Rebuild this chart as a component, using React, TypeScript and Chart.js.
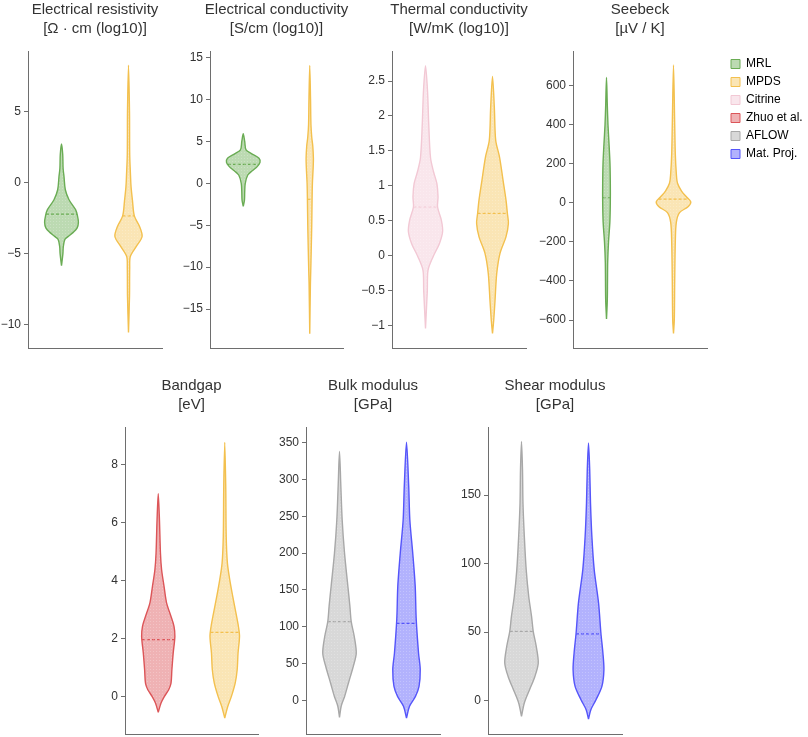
import React, { useEffect, useRef } from "react";
import { Chart, registerables } from "chart.js";

Chart.register(...registerables);

const FONT = "'Liberation Sans', Arial, Helvetica, sans-serif";
const AXIS = "#6e6e6e";
const TEXT = "#333333";
const YW = 42;

// ---------- data ----------
const SOURCES = ["MRL", "MPDS", "Citrine", "Zhuo et al.", "AFLOW", "Mat. Proj."];

// Electrical resistivity [log10 Ω·cm]
const RES_TICKS = [-10, -5, 0, 5];
const RES_RANGE = [-11.64, 9.27];
const RES_MRL_Y = [2.72, 2.0, 1.0, 0.4, -0.5, -1.2, -1.9, -2.3, -2.8, -3.2, -3.5, -3.8, -4.0, -4.5, -5.0, -5.85];
const RES_MRL_W = [0, 0.018, 0.024, 0.038, 0.057, 0.112, 0.21, 0.237, 0.252, 0.232, 0.175, 0.097, 0.05, 0.027, 0.021, 0];
const RES_MRL_MED = -2.22;
const RES_MPDS_Y = [8.27, 5, 2, 0.5, -0.28, -1.3, -2.34, -3.09, -3.79, -4.49, -5.2, -6, -8, -10.55];
const RES_MPDS_W = [0, 0.015, 0.018, 0.03, 0.038, 0.06, 0.087, 0.165, 0.203, 0.117, 0.027, 0.018, 0.015, 0];
const RES_MPDS_MED = -2.34;

// Electrical conductivity [log10 S/cm]
const COND_TICKS = [-15, -10, -5, 0, 5, 10, 15];
const COND_RANGE = [-19.65, 15.8];
const COND_MRL_Y = [5.93, 5, 4, 3.5, 3.0, 2.5, 2.0, 1.5, 1.0, 0, -1, -2, -2.74];
const COND_MRL_W = [0, 0.022, 0.042, 0.135, 0.237, 0.252, 0.21, 0.135, 0.068, 0.03, 0.022, 0.018, 0];
const COND_MRL_MED = 2.27;
const COND_MPDS_Y = [14.08, 10, 7, 5.5, 4.5, 3, 2, 0, -2, -5, -8, -10.5, -12, -17.94];
const COND_MPDS_W = [0, 0.012, 0.018, 0.03, 0.045, 0.055, 0.052, 0.04, 0.035, 0.03, 0.022, 0.015, 0.01, 0];
const COND_MPDS_MED = -1.9;

// Thermal conductivity [log10 W/mK]
const THERM_TICKS = [-1, -0.5, 0, 0.5, 1, 1.5, 2, 2.5];
const THERM_RANGE = [-1.325, 2.93];
const THERM_CIT_Y = [2.72, 2.36, 1.89, 1.4, 1.2, 1.03, 0.84, 0.695, 0.505, 0.34, 0.17, -0.02, -0.21, -0.5, -1.045];
const THERM_CIT_W = [0, 0.03, 0.048, 0.075, 0.12, 0.17, 0.187, 0.18, 0.237, 0.255, 0.207, 0.112, 0.038, 0.027, 0];
const THERM_CIT_MED = 0.695;
const THERM_MPDS_Y = [2.565, 2.13, 1.65, 1.41, 1.08, 0.79, 0.605, 0.46, 0.27, 0.03, -0.26, -0.64, -0.93, -1.116];
const THERM_MPDS_W = [0, 0.027, 0.048, 0.105, 0.157, 0.202, 0.222, 0.237, 0.202, 0.112, 0.063, 0.038, 0.018, 0];
const THERM_MPDS_MED = 0.605;

// Seebeck [µV/K]
const SEEB_TICKS = [-600, -400, -200, 0, 200, 400, 600];
const SEEB_RANGE = [-743, 777];
const SEEB_MRL_Y = [641, 500, 400, 300, 200, 100, 0, -100, -200, -300, -400, -500, -595];
const SEEB_MRL_W = [0, 0.012, 0.022, 0.038, 0.052, 0.057, 0.057, 0.05, 0.03, 0.018, 0.015, 0.012, 0];
const SEEB_MRL_MED = 26;
const SEEB_MPDS_Y = [705, 400, 250, 150, 100, 60, 30, 5, -20, -50, -100, -200, -400, -600, -668];
const SEEB_MPDS_W = [0, 0.018, 0.027, 0.042, 0.06, 0.12, 0.195, 0.258, 0.217, 0.09, 0.042, 0.027, 0.018, 0.012, 0];
const SEEB_MPDS_MED = 19;

// Bandgap [eV]
const GAP_TICKS = [0, 2, 4, 6, 8];
const GAP_RANGE = [-1.3, 9.3];
const GAP_ZHUO_Y = [7.0, 6.1, 4.95, 4.38, 3.8, 3.23, 2.76, 2.42, 2.07, 1.5, 0.92, 0.46, 0.23, 0, -0.23, -0.55];
const GAP_ZHUO_W = [0, 0.018, 0.033, 0.05, 0.087, 0.125, 0.192, 0.237, 0.25, 0.225, 0.205, 0.192, 0.157, 0.093, 0.042, 0];
const GAP_ZHUO_MED = 1.96;
const GAP_MPDS_Y = [8.77, 7.25, 5.53, 4.6, 4.03, 3.45, 2.88, 2.42, 2.07, 1.5, 0.92, 0.46, 0, -0.35, -0.75];
const GAP_MPDS_W = [0, 0.015, 0.022, 0.04, 0.075, 0.12, 0.168, 0.205, 0.222, 0.2, 0.187, 0.157, 0.1, 0.045, 0];
const GAP_MPDS_MED = 2.21;

// Bulk modulus [GPa]
const BULK_TICKS = [0, 50, 100, 150, 200, 250, 300, 350];
const BULK_RANGE = [-45.7, 371.3];
const BULK_AFLOW_Y = [338, 291, 245, 200, 155, 128, 107, 87, 64, 46, 24, 5, -8, -23];
const BULK_AFLOW_W = [0, 0.02, 0.04, 0.075, 0.125, 0.155, 0.175, 0.22, 0.25, 0.205, 0.135, 0.075, 0.025, 0];
const BULK_AFLOW_MED = 107;
const BULK_MP_Y = [350.5, 291, 245, 200, 155, 110, 64, 42, 19, 5, -8, -24];
const BULK_MP_W = [0, 0.033, 0.05, 0.093, 0.13, 0.145, 0.18, 0.205, 0.187, 0.132, 0.045, 0];
const BULK_MP_MED = 104.6;

// Shear modulus [GPa]
const SHEAR_TICKS = [0, 50, 100, 150];
const SHEAR_RANGE = [-24.3, 199.6];
const SHEAR_AFLOW_Y = [189, 168.6, 144, 120, 95.6, 76, 61.5, 50.6, 39.6, 27.5, 17.7, 8, -1.7, -11.5];
const SHEAR_AFLOW_W = [0, 0.015, 0.022, 0.042, 0.07, 0.108, 0.15, 0.175, 0.22, 0.25, 0.2, 0.12, 0.042, 0];
const SHEAR_AFLOW_MED = 50.6;
const SHEAR_MP_Y = [188, 168.6, 144, 120, 95.6, 71.3, 49.4, 34.8, 22.6, 10.4, 0.7, -6.6, -13.4];
const SHEAR_MP_W = [0, 0.018, 0.03, 0.05, 0.085, 0.15, 0.185, 0.215, 0.23, 0.2, 0.112, 0.035, 0];
const SHEAR_MP_MED = 48.7;

// ---------- styles ----------
const STYLE: Record<string, { line: string; fill: string }> = {
  MRL: { line: "rgb(106,172,84)", fill: "rgba(106,172,84,0.45)" },
  MPDS: { line: "rgb(243,192,78)", fill: "rgba(243,192,78,0.42)" },
  Citrine: { line: "rgb(242,200,212)", fill: "rgba(242,200,212,0.45)" },
  "Zhuo et al.": { line: "rgb(220,85,88)", fill: "rgba(220,85,88,0.45)" },
  AFLOW: { line: "rgb(168,168,168)", fill: "rgba(168,168,168,0.45)" },
  "Mat. Proj.": { line: "rgb(85,85,250)", fill: "rgba(85,85,250,0.45)" },
};

type Violin = { source: string; y: number[]; w: number[]; median: number };
type PanelDef = {
  title: string[];
  ticks: number[];
  range: number[];
  violins: Violin[];
  box: { left: number; top: number; plotW: number; plotH: number };
};

const PANELS: PanelDef[] = [
  {
    title: ["Electrical resistivity", "[Ω · cm (log10)]"],
    ticks: RES_TICKS,
    range: RES_RANGE,
    violins: [
      { source: "MRL", y: RES_MRL_Y, w: RES_MRL_W, median: RES_MRL_MED },
      { source: "MPDS", y: RES_MPDS_Y, w: RES_MPDS_W, median: RES_MPDS_MED },
    ],
    box: { left: 28, top: 51, plotW: 134, plotH: 297 },
  },
  {
    title: ["Electrical conductivity", "[S/cm (log10)]"],
    ticks: COND_TICKS,
    range: COND_RANGE,
    violins: [
      { source: "MRL", y: COND_MRL_Y, w: COND_MRL_W, median: COND_MRL_MED },
      { source: "MPDS", y: COND_MPDS_Y, w: COND_MPDS_W, median: COND_MPDS_MED },
    ],
    box: { left: 210, top: 51, plotW: 133, plotH: 297 },
  },
  {
    title: ["Thermal conductivity", "[W/mK (log10)]"],
    ticks: THERM_TICKS,
    range: THERM_RANGE,
    violins: [
      { source: "Citrine", y: THERM_CIT_Y, w: THERM_CIT_W, median: THERM_CIT_MED },
      { source: "MPDS", y: THERM_MPDS_Y, w: THERM_MPDS_W, median: THERM_MPDS_MED },
    ],
    box: { left: 392, top: 51, plotW: 134, plotH: 297 },
  },
  {
    title: ["Seebeck", "[µV / K]"],
    ticks: SEEB_TICKS,
    range: SEEB_RANGE,
    violins: [
      { source: "MRL", y: SEEB_MRL_Y, w: SEEB_MRL_W, median: SEEB_MRL_MED },
      { source: "MPDS", y: SEEB_MPDS_Y, w: SEEB_MPDS_W, median: SEEB_MPDS_MED },
    ],
    box: { left: 573, top: 51, plotW: 134, plotH: 297 },
  },
  {
    title: ["Bandgap", "[eV]"],
    ticks: GAP_TICKS,
    range: GAP_RANGE,
    violins: [
      { source: "Zhuo et al.", y: GAP_ZHUO_Y, w: GAP_ZHUO_W, median: GAP_ZHUO_MED },
      { source: "MPDS", y: GAP_MPDS_Y, w: GAP_MPDS_W, median: GAP_MPDS_MED },
    ],
    box: { left: 125, top: 427, plotW: 133, plotH: 307 },
  },
  {
    title: ["Bulk modulus", "[GPa]"],
    ticks: BULK_TICKS,
    range: BULK_RANGE,
    violins: [
      { source: "AFLOW", y: BULK_AFLOW_Y, w: BULK_AFLOW_W, median: BULK_AFLOW_MED },
      { source: "Mat. Proj.", y: BULK_MP_Y, w: BULK_MP_W, median: BULK_MP_MED },
    ],
    box: { left: 306, top: 427, plotW: 134, plotH: 307 },
  },
  {
    title: ["Shear modulus", "[GPa]"],
    ticks: SHEAR_TICKS,
    range: SHEAR_RANGE,
    violins: [
      { source: "AFLOW", y: SHEAR_AFLOW_Y, w: SHEAR_AFLOW_W, median: SHEAR_AFLOW_MED },
      { source: "Mat. Proj.", y: SHEAR_MP_Y, w: SHEAR_MP_W, median: SHEAR_MP_MED },
    ],
    box: { left: 488, top: 427, plotW: 134, plotH: 307 },
  },
];

// ---------- helpers ----------
const TITLE_GAP = 53; // canvas top to plot top
const TITLE_PAD_TOP = 3;
const BOTTOM_PAD = 12;

function violinPoints(center: number, ys: number[], ws: number[]) {
  const left = ys.map((y, i) => ({ x: center - ws[i], y })).reverse();
  const right = ys.map((y, i) => ({ x: center + ws[i], y }));
  return [...left, ...right.slice(1)];
}

function widthAt(ys: number[], ws: number[], v: number) {
  for (let i = 0; i < ys.length - 1; i++) {
    const a = ys[i];
    const b = ys[i + 1];
    if (v <= a && v >= b) {
      const t = a === b ? 0 : (a - v) / (a - b);
      return ws[i] + (ws[i + 1] - ws[i]) * t;
    }
  }
  return 0;
}

function fmt(v: number) {
  return v < 0 ? "\u2212" + String(Math.abs(v)) : String(v);
}

function makePattern(fill: string): CanvasPattern | string {
  const tile = document.createElement("canvas");
  tile.width = 3;
  tile.height = 3;
  const c = tile.getContext("2d");
  if (!c) return fill;
  c.fillStyle = fill;
  c.fillRect(0, 0, 3, 3);
  c.fillStyle = "rgba(255,255,255,0.22)";
  c.fillRect(1, 1, 1, 1);
  const pat = c.createPattern(tile, "repeat");
  return pat || fill;
}

function Panel({ p }: { p: PanelDef }) {
  const ref = useRef<HTMLCanvasElement>(null);
  const W = p.box.plotW + 2 * YW;
  const H = TITLE_GAP + p.box.plotH + BOTTOM_PAD;
  const left = p.box.left - YW;
  const top = p.box.top - TITLE_GAP;

  useEffect(() => {
    if (!ref.current) return;
    const datasets: any[] = [];
    p.violins.forEach((v, idx) => {
      const st = STYLE[v.source];
      datasets.push({
        label: v.source,
        data: violinPoints(idx, v.y, v.w),
        showLine: true,
        fill: "shape",
        backgroundColor: makePattern(st.fill),
        borderColor: st.line,
        borderWidth: 1.4,
        pointRadius: 0,
        tension: 0.3,
        xAxisID: "x",
        yAxisID: "y",
      });
      const wm = widthAt(v.y, v.w, v.median);
      datasets.push({
        label: v.source + " median",
        data: [
          { x: idx - wm, y: v.median },
          { x: idx + wm, y: v.median },
        ],
        showLine: true,
        fill: false,
        borderColor: st.line,
        borderWidth: 1.2,
        borderDash: [3, 2],
        pointRadius: 0,
        xAxisID: "x",
        yAxisID: "y",
      });
    });

    const chart = new Chart(ref.current, {
      type: "scatter",
      data: { datasets },
      options: {
        animation: false,
        responsive: false,
        events: [],
        layout: { padding: { left: 0, right: 0, top: 0, bottom: BOTTOM_PAD } },
        plugins: {
          legend: { display: false },
          tooltip: { enabled: false },
          title: {
            display: true,
            text: p.title,
            color: TEXT,
            font: { family: FONT, size: 15, weight: "normal", lineHeight: 1.23 },
            padding: {
              top: TITLE_PAD_TOP,
              bottom: TITLE_GAP - 2 * 15 * 1.23 - TITLE_PAD_TOP,
            },
          },
        },
        scales: {
          x: {
            type: "linear",
            position: "bottom",
            min: -0.5,
            max: 1.5,
            ticks: { display: false },
            grid: { display: false },
            border: { display: true, color: AXIS, width: 1 },
            afterFit: (s: any) => {
              s.height = 0;
            },
          },
          y: {
            type: "linear",
            position: "left",
            min: p.range[0],
            max: p.range[1],
            afterBuildTicks: (s: any) => {
              s.ticks = p.ticks.map((value) => ({ value }));
            },
            ticks: {
              color: TEXT,
              font: { family: FONT, size: 12 },
              padding: 3,
              callback: (v: any) => fmt(Number(v)),
            },
            grid: {
              display: true,
              drawOnChartArea: false,
              drawTicks: true,
              tickLength: 4,
              color: AXIS,
            },
            border: { display: true, color: AXIS, width: 1 },
            afterFit: (s: any) => {
              s.width = YW;
            },
          },
          y2: {
            type: "linear",
            axis: "y",
            position: "right",
            display: true,
            ticks: { display: false },
            grid: { display: false },
            border: { display: false },
            afterFit: (s: any) => {
              s.width = YW;
            },
          },
        },
      } as any,
    });
    return () => chart.destroy();
  }, []);

  return (
    <canvas
      ref={ref}
      width={W}
      height={H}
      style={{ position: "absolute", left, top, width: W, height: H }}
    />
  );
}

function Legend() {
  const ref = useRef<HTMLCanvasElement>(null);
  useEffect(() => {
    if (!ref.current) return;
    const chart = new Chart(ref.current, {
      type: "scatter",
      data: { datasets: [] },
      options: {
        animation: false,
        responsive: false,
        events: [],
        layout: { padding: 0 },
        scales: { x: { display: false }, y: { display: false } },
        plugins: {
          tooltip: { enabled: false },
          title: { display: false },
          legend: {
            display: true,
            position: "left",
            align: "start",
            labels: {
              boxWidth: 9,
              boxHeight: 9,
              padding: 6,
              color: TEXT,
              font: { family: FONT, size: 12 },
              generateLabels: () =>
                SOURCES.map((s, i) => ({
                  text: s,
                  fillStyle: STYLE[s].fill,
                  strokeStyle: STYLE[s].line,
                  lineWidth: 1,
                  hidden: false,
                  datasetIndex: i,
                })),
            },
          },
        },
      } as any,
    });
    return () => chart.destroy();
  }, []);
  return (
    <canvas
      ref={ref}
      width={240}
      height={130}
      style={{ position: "absolute", left: 725, top: 52, width: 240, height: 130 }}
    />
  );
}

export default function App() {
  return (
    <div
      style={{
        position: "absolute",
        left: 0,
        top: 0,
        width: 808,
        height: 737,
        overflow: "hidden",
        background: "#ffffff",
      }}
    >
      {PANELS.map((p, i) => (
        <Panel key={i} p={p} />
      ))}
      <Legend />
    </div>
  );
}
